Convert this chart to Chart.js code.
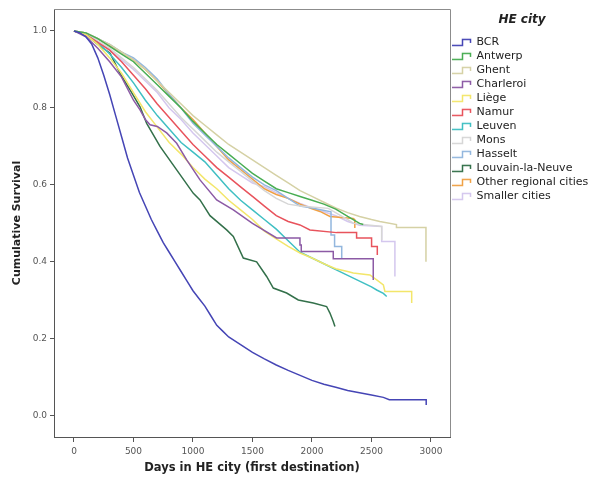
<!DOCTYPE html>
<html>
<head>
<meta charset="utf-8">
<script src="https://cdn.jsdelivr.net/npm/chart.js@4.4.1/dist/chart.umd.min.js"></script>
<style>
  html, body { margin: 0; padding: 0; background: #fff; }
</style>
</head>
<body>
<canvas id="km" width="594" height="481"></canvas>
<script>
const cities = ["BCR", "Antwerp", "Ghent", "Charleroi", "Liège", "Namur", "Leuven",
  "Mons", "Hasselt", "Louvain-la-Neuve", "Other regional cities", "Smaller cities"];
const dayTicks = [0, 500, 1000, 1500, 2000, 2500, 3000];
const survTicks = [0, 0.2, 0.4, 0.6, 0.8, 1.0];

// Kaplan-Meier estimates: [days, cumulative survival]
const bcr = [[0,1],[50,0.995],[100,0.985],[150,0.965],[200,0.93],[250,0.885],[300,0.835],[350,0.78],
  [400,0.725],[450,0.67],[500,0.625],[550,0.58],[600,0.545],[650,0.51],[700,0.48],[750,0.45],[800,0.425],
  [850,0.4],[900,0.375],[950,0.35],[1000,0.325],[1050,0.305],[1100,0.285],[1150,0.26],[1200,0.235],
  [1250,0.22],[1300,0.205],[1400,0.185],[1500,0.165],[1600,0.148],[1700,0.132],[1800,0.118],[1900,0.105],
  [2000,0.092],[2100,0.082],[2200,0.074],[2300,0.066],[2400,0.06],[2500,0.054],[2600,0.048],[2650,0.042],
  [2960,0.042],[2960,0.028]];
const antwerp = [[0,1],[100,0.995],[200,0.98],[300,0.96],[400,0.94],[500,0.92],[600,0.89],[700,0.86],
  [800,0.83],[900,0.8],[1000,0.765],[1100,0.735],[1200,0.705],[1300,0.68],[1400,0.655],[1500,0.63],
  [1600,0.61],[1700,0.59],[1800,0.58],[1900,0.57],[2000,0.56],[2100,0.55],[2200,0.537],[2300,0.518],
  [2400,0.5],[2431,0.497]];
const ghent = [[0,1],[100,0.995],[200,0.98],[300,0.965],[400,0.945],[500,0.925],[600,0.9],[700,0.87],
  [800,0.84],[900,0.81],[1000,0.78],[1100,0.755],[1200,0.73],[1300,0.705],[1400,0.685],[1500,0.665],
  [1600,0.645],[1700,0.625],[1800,0.605],[1900,0.585],[2000,0.57],[2100,0.555],[2200,0.54],[2300,0.528],
  [2400,0.518],[2500,0.51],[2570,0.505],[2710,0.497],[2710,0.489],[2958,0.489],[2958,0.4]];
const charleroi = [[0,1],[100,0.985],[200,0.955],[300,0.92],[400,0.88],[500,0.82],[555,0.795],[600,0.77],
  [639,0.756],[700,0.752],[779,0.735],[863,0.708],[947,0.665],[1059,0.613],[1199,0.561],[1339,0.535],
  [1500,0.5],[1703,0.462],[1899,0.462],[1899,0.444],[1910,0.444],[1910,0.427],[2179,0.427],[2179,0.408],
  [2515,0.408],[2515,0.353]];
const liege = [[0,1],[100,0.99],[200,0.965],[300,0.93],[400,0.89],[500,0.84],[600,0.79],[700,0.75],
  [800,0.71],[900,0.68],[1000,0.645],[1100,0.615],[1200,0.59],[1300,0.56],[1400,0.535],[1500,0.51],
  [1600,0.48],[1700,0.46],[1800,0.44],[1900,0.423],[2000,0.41],[2100,0.395],[2200,0.382],[2300,0.375],
  [2347,0.371],[2487,0.366],[2544,0.353],[2600,0.34],[2613,0.323],[2838,0.323],[2838,0.293]];
const namur = [[0,1],[100,0.99],[200,0.97],[300,0.95],[400,0.92],[500,0.885],[600,0.85],[700,0.81],
  [800,0.775],[900,0.74],[1000,0.705],[1100,0.675],[1200,0.645],[1300,0.62],[1400,0.595],[1500,0.57],
  [1600,0.545],[1700,0.52],[1800,0.505],[1899,0.496],[1983,0.483],[2207,0.476],[2375,0.476],[2375,0.462],
  [2501,0.462],[2501,0.44],[2549,0.44],[2549,0.418]];
const leuven = [[0,1],[100,0.99],[200,0.97],[300,0.94],[400,0.905],[500,0.865],[600,0.82],[700,0.78],
  [800,0.745],[900,0.71],[1000,0.685],[1100,0.66],[1200,0.625],[1300,0.59],[1400,0.56],[1500,0.535],
  [1600,0.51],[1700,0.485],[1800,0.455],[1900,0.425],[2000,0.41],[2100,0.395],[2200,0.38],[2300,0.365],
  [2400,0.35],[2500,0.335],[2544,0.327],[2600,0.318],[2628,0.31]];
const mons = [[0,1],[100,0.993],[200,0.975],[300,0.955],[400,0.93],[500,0.905],[600,0.875],[700,0.845],
  [800,0.81],[900,0.775],[1000,0.745],[1100,0.715],[1200,0.685],[1300,0.66],[1400,0.635],[1500,0.61],
  [1600,0.585],[1700,0.565],[1800,0.55],[1900,0.545],[2137,0.539],[2300,0.51],[2350,0.5],[2586,0.492],
  [2586,0.457]];
const hasselt = [[0,1],[100,0.995],[200,0.98],[300,0.965],[400,0.945],[500,0.93],[600,0.905],[700,0.875],
  [800,0.835],[900,0.8],[1000,0.76],[1100,0.73],[1200,0.7],[1300,0.67],[1400,0.645],[1500,0.62],
  [1600,0.6],[1700,0.585],[1800,0.565],[1900,0.545],[2000,0.54],[2160,0.53],[2160,0.47],[2190,0.47],
  [2190,0.44],[2250,0.44],[2250,0.41]];
const lln = [[0,1],[100,0.99],[200,0.965],[303,0.942],[387,0.89],[471,0.847],[555,0.803],[611,0.76],
  [723,0.7],[863,0.639],[1003,0.578],[1059,0.561],[1143,0.52],[1283,0.483],[1339,0.466],[1423,0.41],
  [1535,0.4],[1619,0.362],[1675,0.332],[1787,0.319],[1885,0.301],[2011,0.293],[2123,0.284],
  [2151,0.267],[2179,0.245],[2193,0.232]];
const otherRegional = [[0,1],[100,0.995],[200,0.98],[300,0.962],[400,0.945],[500,0.925],[600,0.9],
  [700,0.87],[800,0.835],[900,0.8],[1000,0.77],[1100,0.735],[1200,0.7],[1300,0.665],[1400,0.64],
  [1500,0.615],[1600,0.59],[1700,0.575],[1800,0.565],[1900,0.55],[2000,0.538],[2067,0.531],[2151,0.518],
  [2347,0.513],[2360,0.51],[2360,0.488]];
const smaller = [[0,1],[100,0.99],[200,0.97],[300,0.95],[400,0.925],[500,0.9],[600,0.87],[700,0.84],
  [800,0.8],[900,0.77],[1000,0.735],[1100,0.705],[1200,0.675],[1300,0.645],[1400,0.625],[1500,0.605],
  [1600,0.595],[1700,0.58],[1800,0.565],[1900,0.552],[2000,0.54],[2100,0.53],[2200,0.52],[2300,0.505],
  [2400,0.495],[2586,0.492],[2586,0.453],[2697,0.453],[2697,0.362]];

const curves = [bcr, antwerp, ghent, charleroi, liege, namur, leuven, mons, hasselt, lln, otherRegional, smaller];
const colors = ["#4545b5", "#48ad52", "#d5d1a5", "#8c5aa5", "#f3e66a", "#e8535c", "#3fbfc3",
  "#d6d6d6", "#93b7de", "#33704a", "#f0a145", "#d4c7ee"];

// little step icon like the SPSS legend
function stepIcon(color) {
  const c = document.createElement('canvas');
  c.width = 22; c.height = 12;
  const g = c.getContext('2d');
  g.strokeStyle = color;
  g.lineWidth = 1.5;
  g.beginPath();
  g.moveTo(1, 9.5); g.lineTo(11.5, 9.5); g.lineTo(11.5, 3.5); g.lineTo(19.5, 3.5); g.lineTo(19.5, 7);
  g.stroke();
  return c;
}

const framePlugin = {
  id: 'frame',
  afterDraw(chart) {
    const { ctx, chartArea: a } = chart;
    ctx.save();
    ctx.strokeStyle = '#8c8c8c';
    ctx.lineWidth = 1;
    ctx.beginPath();
    ctx.moveTo(a.left, Math.round(a.top) + 0.5);
    ctx.lineTo(Math.round(a.right) + 0.5, Math.round(a.top) + 0.5);
    ctx.lineTo(Math.round(a.right) + 0.5, a.bottom);
    ctx.stroke();
    ctx.restore();
  }
};

const font = "'DejaVu Sans', Verdana, sans-serif";

new Chart(document.getElementById('km'), {
  type: 'line',
  data: {
    datasets: cities.map((name, i) => ({
      label: name,
      data: curves[i].map(p => ({ x: p[0], y: p[1] })),
      borderColor: colors[i],
      backgroundColor: colors[i],
      borderWidth: 1.5,
      pointRadius: 0,
      pointStyle: stepIcon(colors[i]),
      tension: 0,
      fill: false
    }))
  },
  options: {
    responsive: false,
    animation: false,
    events: [],
    layout: { padding: { top: 9, left: 0, right: 0, bottom: 0 } },
    plugins: {
      tooltip: { enabled: false },
      legend: {
        position: 'right',
        align: 'start',
        maxWidth: 144,
        title: {
          display: true,
          text: 'HE city',
          color: '#222',
          font: { family: font, size: 12, weight: 'bold', style: 'italic' },
          padding: { top: 5, bottom: 5 }
        },
        labels: {
          usePointStyle: true,
          pointStyleWidth: 18,
          boxHeight: 10,
          padding: 3,
          color: '#222',
          font: { family: font, size: 11 }
        }
      }
    },
    scales: {
      x: {
        type: 'linear',
        min: -168,
        max: 3160,
        border: { display: true, color: '#555', width: 1 },
        grid: { drawOnChartArea: false, drawTicks: true, tickLength: 5, color: '#555' },
        ticks: { color: '#555', padding: 4, maxRotation: 0, autoSkip: false,
          font: { family: font, size: 9 }, callback: v => String(v) },
        afterBuildTicks(s) { s.ticks = dayTicks.map(v => ({ value: v })); },
        title: { display: true, text: 'Days in HE city (first destination)', color: '#222',
          font: { family: font, size: 11.5, weight: 'bold' }, padding: { top: 0, bottom: 6 } },
        afterFit(s) { s.height = 44; }
      },
      y: {
        type: 'linear',
        min: -0.055,
        max: 1.057,
        border: { display: true, color: '#555', width: 1 },
        grid: { drawOnChartArea: false, drawTicks: true, tickLength: 4, color: '#555' },
        ticks: { color: '#555', padding: 3, autoSkip: false,
          font: { family: font, size: 9 }, callback: v => v.toFixed(1) },
        afterBuildTicks(s) { s.ticks = survTicks.map(v => ({ value: v })); },
        title: { display: true, text: 'Cumulative Survival', color: '#222',
          font: { family: font, size: 11, weight: 'bold' }, padding: { top: 11, bottom: 0 } },
        afterFit(s) { s.width = 54; }
      }
    }
  },
  plugins: [framePlugin]
});
</script>
</body>
</html>
